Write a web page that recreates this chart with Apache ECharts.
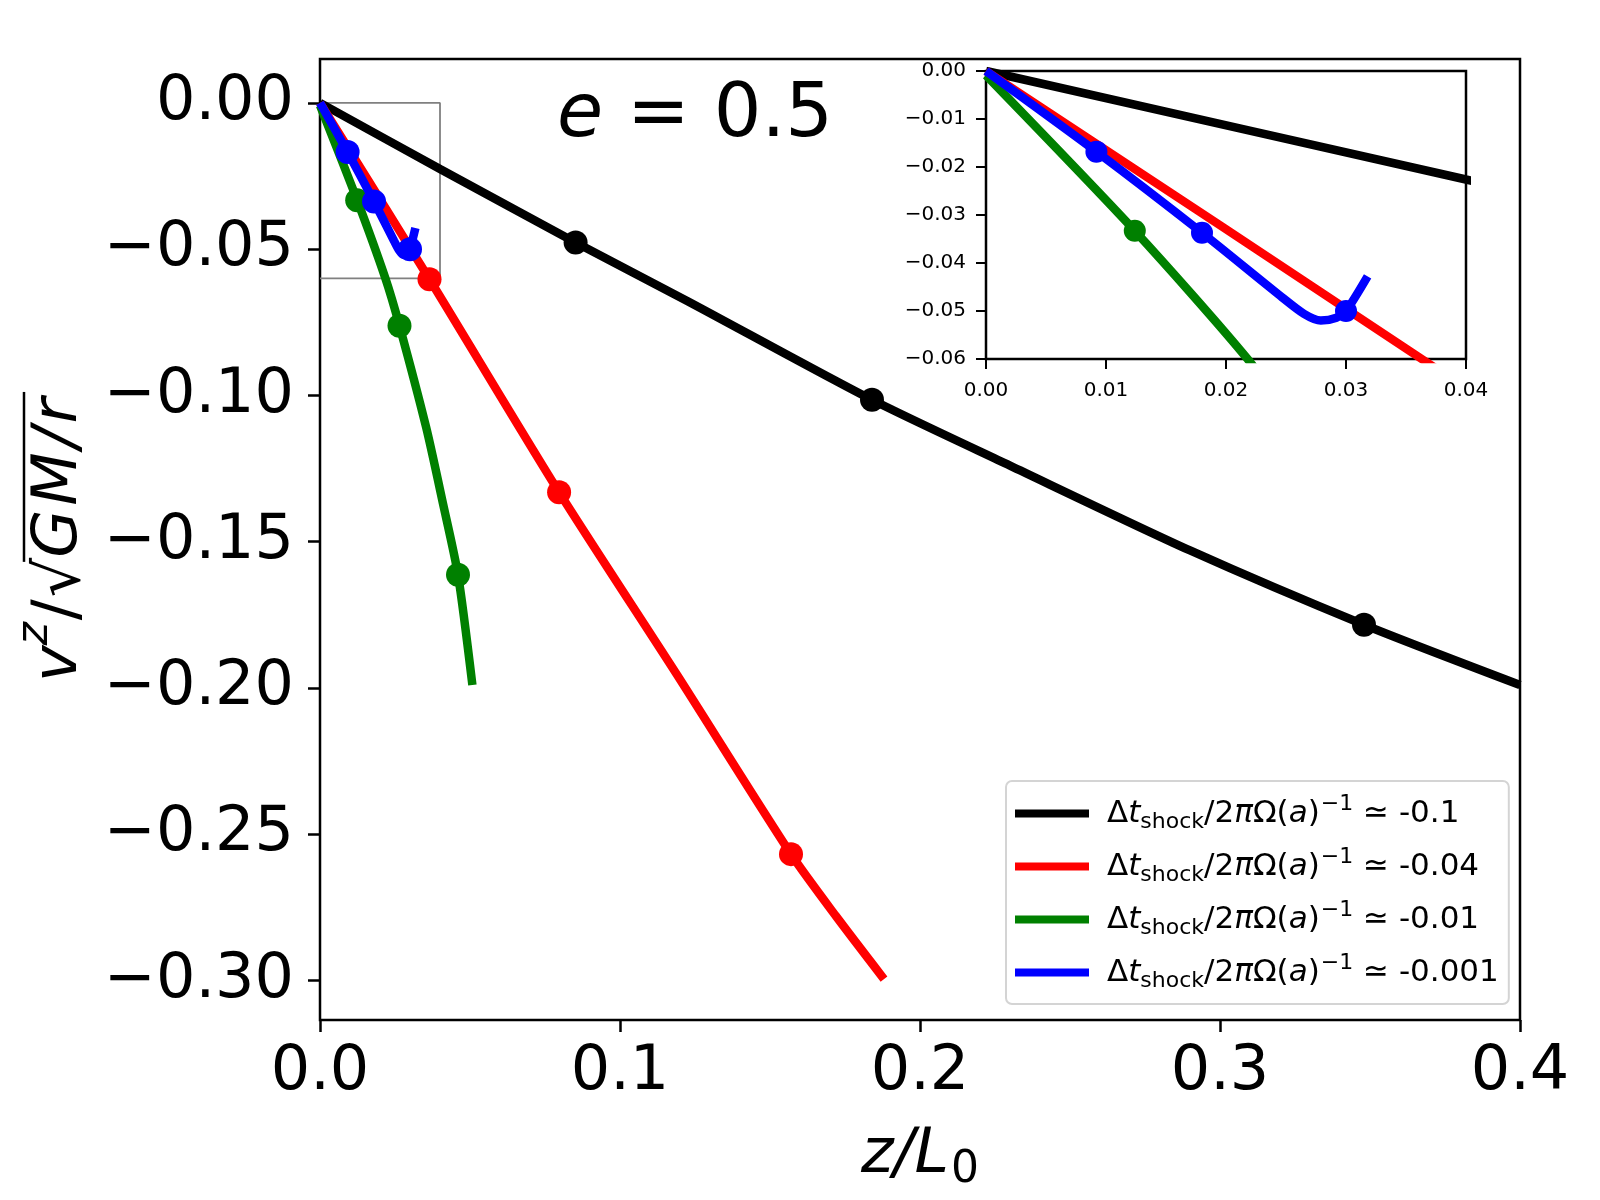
<!DOCTYPE html>
<html>
<head>
<meta charset="utf-8">
<script src="https://cdn.jsdelivr.net/npm/echarts@6/dist/echarts.min.js"></script>
<style>
  html, body { margin: 0; padding: 0; background: #fff; }
  #main { width: 1600px; height: 1200px; }
</style>
</head>
<body>
<div id="main"></div>
<script>
// values (z/L0 , v^z/sqrt(GM/r))
var blackZ = [0, 0.04, 0.0852, 0.1224, 0.184, 0.23, 0.29, 0.348, 0.4];
var blackV = [0, -0.0226, -0.0477, -0.0677, -0.1015, -0.124, -0.153, -0.1784, -0.199];
var redZ = [0, 0.0365, 0.0797, 0.119, 0.157, 0.172, 0.188];
var redV = [0, -0.0603, -0.1331, -0.1955, -0.2568, -0.278, -0.2995];
var greenZ = [0, 0.0124, 0.0218, 0.0265, 0.0354, 0.041, 0.046, 0.0508];
var greenV = [-0.0009, -0.0333, -0.06, -0.0762, -0.111, -0.137, -0.1613, -0.199];
var blueZ = [0, 0.0092, 0.018, 0.0247, 0.0265, 0.0279, 0.0292, 0.030, 0.0318];
var blueV = [0, -0.0168, -0.0337, -0.0472, -0.0506, -0.0520, -0.0514, -0.0500, -0.0428];

// dots on the curves
var blackDotZ = [0.0852, 0.184, 0.348];
var blackDotV = [-0.0477, -0.1015, -0.1784];
var redDotZ = [0.0365, 0.0797, 0.157];
var redDotV = [-0.0603, -0.1331, -0.2568];
var greenDotZ = [0.0124, 0.0265, 0.046];
var greenDotV = [-0.0333, -0.0762, -0.1613];
var blueDotZ = [0.0092, 0.018, 0.030];
var blueDotV = [-0.0168, -0.0337, -0.0500];

// zoom box drawn in the main panel
var boxZ = [0, 0.04, 0.04, 0];
var boxV = [0, 0, -0.06, -0.06];

var shockNames = ['-0.1', '-0.04', '-0.01', '-0.001'];
var colors = ['#000000', '#ff0000', '#008000', '#0000ff'];

var mainYTicks = [0, -0.05, -0.10, -0.15, -0.20, -0.25, -0.30];
var insetYTicks = [0, -0.01, -0.02, -0.03, -0.04, -0.05, -0.06];
var insetXTicks = [0, 0.01, 0.02, 0.03, 0.04];

var FONT = 'DejaVu Sans';

function zip(a, b) {
    var out = [];
    for (var i = 0; i < a.length; i++) out.push([a[i], b[i]]);
    return out;
}
function minusFmt(d) {
    return function (v) {
        if (Math.abs(v) < 1e-9) return (0).toFixed(d);
        return (v < 0 ? '\u2212' : '') + Math.abs(v).toFixed(d);
    };
}

var curves = [zip(blackZ, blackV), zip(redZ, redV), zip(greenZ, greenV), zip(blueZ, blueV)];
var dots = [zip(blackDotZ, blackDotV), zip(redDotZ, redDotV), zip(greenDotZ, greenDotV), zip(blueDotZ, blueDotV)];

var series = [];
// main panel
for (var k = 0; k < 4; k++) {
    series.push({
        name: shockNames[k], type: 'line', xAxisIndex: 0, yAxisIndex: 0,
        data: curves[k], showSymbol: false, smooth: 0.25, z: 2 + k,
        itemStyle: {color: colors[k]},
        lineStyle: {color: colors[k], width: 8.5},
        silent: true, animation: false
    });
    series.push({
        name: 'dots' + k, type: 'scatter', xAxisIndex: 0, yAxisIndex: 0,
        data: dots[k], symbolSize: 24, z: 2 + k,
        itemStyle: {color: colors[k], opacity: 1},
        silent: true, animation: false
    });
}
series.push({
    name: 'box', type: 'line', xAxisIndex: 0, yAxisIndex: 0,
    data: zip(boxZ, boxV), showSymbol: false, z: 1,
    lineStyle: {color: '#808080', width: 1.8}, silent: true, animation: false
});
// inset panel
for (var k = 0; k < 4; k++) {
    series.push({
        name: 'in' + k, type: 'line', xAxisIndex: 1, yAxisIndex: 1,
        data: curves[k], showSymbol: false, smooth: 0.25, z: 10 + k, clip: true,
        lineStyle: {color: colors[k], width: 8.5},
        silent: true, animation: false
    });
    series.push({
        name: 'indots' + k, type: 'scatter', xAxisIndex: 1, yAxisIndex: 1,
        data: dots[k], symbolSize: 22, z: 10 + k, clip: true,
        itemStyle: {color: colors[k], opacity: 1},
        silent: true, animation: false
    });
}

// y axis label pieces, measured so the overline sits over GM/r
var ctx = document.createElement('canvas').getContext('2d');
function tw(txt, size, italic) {
    ctx.font = (italic ? 'italic ' : '') + size + 'px "' + FONT + '"';
    return ctx.measureText(txt).width;
}
var ys = 62;
var pieces = [
    {t: 'v', s: ys, it: true, dy: 0, gap: 0},
    {t: 'z', s: 44, it: true, dy: -24, gap: 2},
    {t: '/', s: ys, it: false, dy: 0, gap: 2},
    {t: '\u221a', s: ys, it: false, dy: 3, gap: 0},
    {t: 'G', s: ys, it: true, dy: 0, gap: 4},
    {t: 'M', s: ys, it: true, dy: 0, gap: 4},
    {t: '/', s: ys, it: true, dy: 0, gap: 4},
    {t: 'r', s: ys, it: true, dy: 0, gap: 0}
];
var totalW = 0;
pieces.forEach(function (p) { p.w = tw(p.t, p.s, p.it); totalW += p.w + p.gap; });
var px = -totalW / 2;
var ylabChildren = [];
var gmStart = 0;
pieces.forEach(function (p, i) {
    if (i === 4) gmStart = px;
    ylabChildren.push({
        type: 'text', x: px, y: p.dy,
        style: {text: p.t, fontSize: p.s, fontFamily: FONT, fontStyle: p.it ? 'italic' : 'normal',
            fill: '#000', align: 'left', verticalAlign: 'middle'}
    });
    px += p.w + p.gap;
});
ylabChildren.push({
    type: 'line',
    shape: {x1: gmStart - 4, y1: -36, x2: px + 6, y2: -36},
    style: {stroke: '#000', lineWidth: 2.5}
});

var noBounds = 'none';
var chart = echarts.init(document.getElementById('main'));
var option = {
    backgroundColor: '#fff',
    animation: false,
    grid: [
        {left: 320, top: 59, width: 1200, height: 961, show: true, borderColor: '#000', borderWidth: 2.5,
            z: 0, containLabel: false, outerBoundsMode: noBounds},
        {left: 986, top: 71, width: 480, height: 288, show: true, borderColor: '#000', borderWidth: 2.5,
            backgroundColor: '#fff', z: 8, containLabel: false, outerBoundsMode: noBounds}
    ],
    xAxis: [
        {
            gridIndex: 0, type: 'value', min: 0, max: 0.4, interval: 0.1,
            axisLine: {show: false, onZero: false}, splitLine: {show: false},
            axisTick: {length: 12, lineStyle: {color: '#000', width: 2.5}},
            axisLabel: {fontSize: 62, color: '#000', fontFamily: FONT, margin: 22,
                formatter: minusFmt(1), showMinLabel: true, showMaxLabel: true},
            name: '{i|z/L}{sub|0}', nameLocation: 'middle', nameGap: 99,
            nameTextStyle: {
                fontSize: 62, fontFamily: FONT, color: '#000',
                rich: {
                    i: {fontSize: 62, fontFamily: FONT, fontStyle: 'italic', color: '#000'},
                    sub: {fontSize: 44, fontFamily: FONT, color: '#000', padding: [30, 0, 0, 2]}
                }
            }
        },
        {
            gridIndex: 1, type: 'value', min: 0, max: 0.04,
            axisLine: {show: false, onZero: false}, splitLine: {show: false},
            axisTick: {length: 10, lineStyle: {color: '#000', width: 2}, customValues: insetXTicks},
            axisLabel: {fontSize: 20, color: '#000', fontFamily: FONT, margin: 22,
                formatter: minusFmt(2), customValues: insetXTicks}
        }
    ],
    yAxis: [
        {
            gridIndex: 0, type: 'value', min: -0.3135, max: 0.015,
            axisLine: {show: false, onZero: false}, splitLine: {show: false},
            axisTick: {length: 12, lineStyle: {color: '#000', width: 2.5}, customValues: mainYTicks},
            axisLabel: {fontSize: 62, color: '#000', fontFamily: FONT, margin: 26,
                formatter: minusFmt(2), customValues: mainYTicks}
        },
        {
            gridIndex: 1, type: 'value', min: -0.06, max: 0,
            axisLine: {show: false, onZero: false}, splitLine: {show: false},
            axisTick: {length: 10, lineStyle: {color: '#000', width: 2}, customValues: insetYTicks},
            axisLabel: {fontSize: 20, color: '#000', fontFamily: FONT, margin: 20,
                formatter: minusFmt(2), customValues: insetYTicks}
        }
    ],
    legend: {
        data: shockNames, orient: 'vertical', left: 1006, top: 781,
        icon: 'rect', itemWidth: 74, itemHeight: 8, itemGap: 12,
        padding: [12, 10, 11, 9], borderColor: '#d4d4d4', borderWidth: 2, borderRadius: 6,
        backgroundColor: '#fff', selectedMode: false, z: 20,
        formatter: function (name) {
            return '{lead|\u0394}{i|t}{sub|shock}{n|/2}{i|\u03c0}{n|\u03a9(}{i|a}{n|)}{sup|\u22121}{n| \u2243 ' + name + '}';
        },
        textStyle: {
            fontSize: 31, fontFamily: FONT, color: '#000',
            rich: {
                lead: {fontSize: 31, fontFamily: FONT, color: '#000', lineHeight: 40, padding: [0, 0, 0, 13]},
                n: {fontSize: 31, fontFamily: FONT, color: '#000', lineHeight: 40},
                i: {fontSize: 31, fontFamily: FONT, color: '#000', lineHeight: 40, fontStyle: 'italic'},
                sub: {fontSize: 22, fontFamily: FONT, color: '#000', lineHeight: 22, padding: [17, 0, 0, 0]},
                sup: {fontSize: 22, fontFamily: FONT, color: '#000', lineHeight: 22, padding: [0, 0, 19, 1]}
            }
        }
    },
    graphic: [
        {
            type: 'text', x: 695, y: 117, z: 30,
            style: {
                text: '{i|e} = 0.5', fontSize: 75, fontFamily: FONT, fill: '#000',
                align: 'center', verticalAlign: 'middle',
                rich: {i: {fontSize: 75, fontFamily: FONT, fontStyle: 'italic'}}
            }
        },
        {
            type: 'group', x: 60, y: 540, rotation: Math.PI / 2, z: 30,
            children: ylabChildren
        }
    ],
    series: series
};
chart.setOption(option);
</script>
</body>
</html>
